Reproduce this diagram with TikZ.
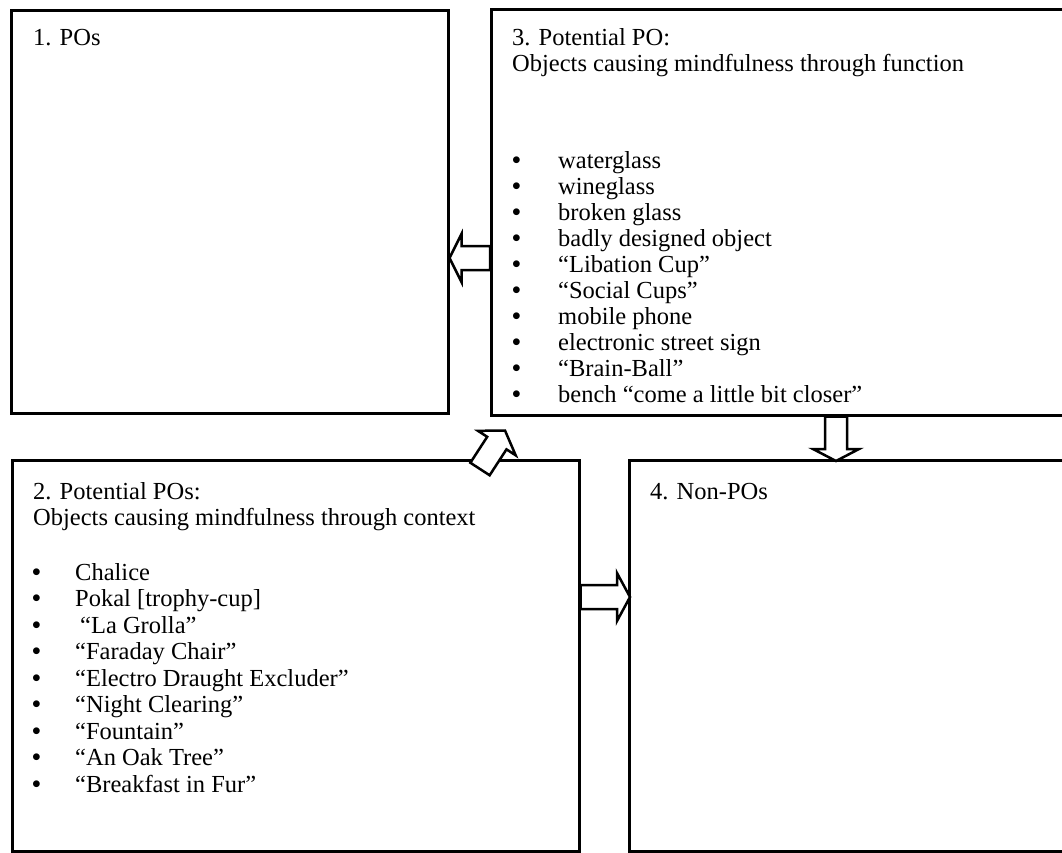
\documentclass[tikz,border=0pt]{standalone}
\usepackage{fontspec}
\setmainfont{Liberation Serif}
\usetikzlibrary{calc}

% hollow block arrow: #1 tail, #2 tip, #3 shaft half width, #4 head half width, #5 head length
\newcommand{\hollowarrow}[5]{%
  \coordinate (ha-s) at (#1);
  \coordinate (ha-t) at (#2);
  \coordinate (ha-b) at ($(ha-t)!#5!(ha-s)$);
  \draw[blockarrow]
    ($(ha-s)!#3!90:(ha-t)$) -- ($(ha-b)!#3!90:(ha-t)$) -- ($(ha-b)!#4!90:(ha-t)$)
    -- (ha-t)
    -- ($(ha-b)!#4!-90:(ha-t)$) -- ($(ha-b)!#3!-90:(ha-t)$) -- ($(ha-s)!#3!-90:(ha-t)$) -- cycle;
}

\begin{document}
\begin{tikzpicture}[x=1pt,y=-1pt,
  box/.style={draw=black, line width=2.5pt, rectangle, anchor=north west, inner sep=0pt},
  txt/.style={anchor=base west, inner sep=0pt, font=\fontsize{24.5}{26}\selectfont},
  dot/.style={anchor=base west, inner sep=0pt, font=\bfseries\fontsize{25}{26}\selectfont},
  blockarrow/.style={draw=black, fill=white, line width=2.5pt, line join=miter},
]
\useasboundingbox (0,0) rectangle (1062,852);
\fill[white] (0,0) rectangle (1062,852);
\clip (0,0) rectangle (1062,852);

% the four boxes
\node[box, minimum width=437pt, minimum height=403pt] (b1) at (10,9) {};
\node[box, minimum width=620pt, minimum height=406pt] (b3) at (490,8) {};
\node[box, minimum width=567pt, minimum height=391pt] (b2) at (11,459) {};
\node[box, minimum width=500pt, minimum height=391pt] (b4) at (628,459) {};

% titles
\node[txt] (t1) at ($(b1.north west)+(23,36)$) {1. POs};
\node[txt] (t3a) at ($(b3.north west)+(22,37)$) {3. Potential PO:};
\node[txt] (t3b) at ($(b3.north west)+(22,63)$) {Objects causing mindfulness through function};
\node[txt] (t2a) at ($(b2.north west)+(22,40)$) {2. Potential POs:};
\node[txt] (t2b) at ($(b2.north west)+(22,66)$) {Objects causing mindfulness through context};
\node[txt] (t4) at ($(b4.north west)+(22,40)$) {4. Non-POs};

% list of box 3
\foreach \t [count=\i from 0] in {waterglass, wineglass, broken glass, badly designed object,
    “Libation Cup”, “Social Cups”, mobile phone, electronic street sign, “Brain-Ball”,
    bench “come a little bit closer”} {
  \node[dot] (fb\i) at ($(b3.north west)+(22,160+26*\i)$) {•};
  \node[txt] (f\i) at ($(b3.north west)+(68,160+26*\i)$) {\t};
}

% list of box 2
\foreach \t/\dx [count=\i from 0] in {Chalice/0, Pokal [trophy-cup]/0, “La Grolla”/5,
    “Faraday Chair”/0, “Electro Draught Excluder”/0, “Night Clearing”/0, “Fountain”/0,
    “An Oak Tree”/0, “Breakfast in Fur”/0} {
  \node[dot] (cb\i) at ($(b2.north west)+(21,121+26.5*\i)$) {•};
  \node[txt] (c\i) at ($(b2.north west)+(64+\dx,121+26.5*\i)$) {\t};
}

% connectors
\hollowarrow{$(b3.north west)+(0,250)$}{$(b1.north east)+(0,249)$}{12pt}{24pt}{12pt}
\hollowarrow{$(b3.south west)+(346,0)$}{$(b4.north west)+(208,2)$}{11pt}{23pt}{12pt}
\hollowarrow{$(b2.north east)+(0,138)$}{$(b4.north west)+(2,138)$}{12pt}{24pt}{13pt}
\hollowarrow{$(b2.north west)+(469,10)$}{$(b3.south west)+(15,14)$}{11.5pt}{22.5pt}{15pt}
\end{tikzpicture}
\end{document}
